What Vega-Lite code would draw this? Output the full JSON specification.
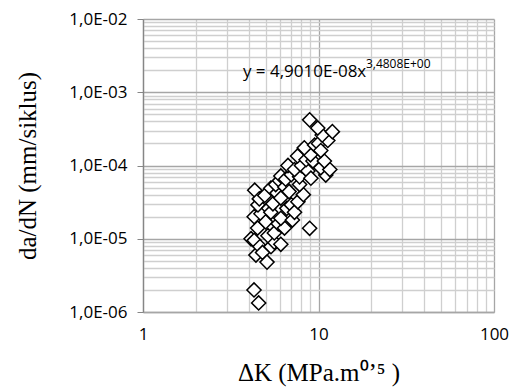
{
  "$schema": "https://vega.github.io/schema/vega-lite/v6.json",
  "width": 351,
  "height": 293,
  "autosize": {"type": "none"},
  "padding": {"left": 143, "top": 19, "right": 21, "bottom": 78},
  "background": "white",
  "config": {"view": {"stroke": null}},
  "layer": [
    {
      "data": {"values": [
        {"dK": 4.13, "dadN": 1.0e-5}, {"dK": 4.3, "dadN": 9.5e-6}, {"dK": 4.4, "dadN": 6.0e-6}, {"dK": 4.64, "dadN": 7.8e-6},
        {"dK": 4.8, "dadN": 6.5e-6}, {"dK": 5.09, "dadN": 4.8e-6}, {"dK": 5.36, "dadN": 7.8e-6}, {"dK": 5.6, "dadN": 9.0e-6},
        {"dK": 6.1, "dadN": 8.4e-6}, {"dK": 4.5, "dadN": 1.4e-5}, {"dK": 5.15, "dadN": 1.1e-5}, {"dK": 5.6, "dadN": 1.2e-5},
        {"dK": 4.3, "dadN": 2.0e-5}, {"dK": 4.7, "dadN": 2.2e-5}, {"dK": 4.52, "dadN": 2.9e-5}, {"dK": 4.33, "dadN": 4.6e-5},
        {"dK": 4.6, "dadN": 3.5e-5}, {"dK": 5.0, "dadN": 1.7e-5}, {"dK": 5.2, "dadN": 2.6e-5}, {"dK": 5.35, "dadN": 2.3e-5},
        {"dK": 4.94, "dadN": 3.9e-5}, {"dK": 5.35, "dadN": 4.9e-5}, {"dK": 5.5, "dadN": 3.0e-5}, {"dK": 5.9, "dadN": 1.6e-5},
        {"dK": 6.4, "dadN": 1.4e-5}, {"dK": 6.1, "dadN": 1.9e-5}, {"dK": 5.8, "dadN": 4.2e-5}, {"dK": 6.1, "dadN": 3.6e-5},
        {"dK": 6.6, "dadN": 2.6e-5}, {"dK": 7.1, "dadN": 1.8e-5}, {"dK": 7.0, "dadN": 2.9e-5}, {"dK": 7.3, "dadN": 2.3e-5},
        {"dK": 5.7, "dadN": 5.5e-5}, {"dK": 6.0, "dadN": 6.2e-5}, {"dK": 6.43, "dadN": 5.1e-5}, {"dK": 6.8, "dadN": 4.4e-5},
        {"dK": 7.63, "dadN": 3.2e-5}, {"dK": 8.2, "dadN": 4.0e-5}, {"dK": 7.8, "dadN": 5.5e-5}, {"dK": 8.9, "dadN": 1.39e-5},
        {"dK": 6.1, "dadN": 7.2e-5}, {"dK": 6.5, "dadN": 6.5e-5}, {"dK": 7.0, "dadN": 7.5e-5}, {"dK": 7.8, "dadN": 7.0e-5},
        {"dK": 6.7, "dadN": 1.0e-4}, {"dK": 7.3, "dadN": 8.8e-5}, {"dK": 8.0, "dadN": 1.0e-4}, {"dK": 8.7, "dadN": 8.4e-5},
        {"dK": 9.05, "dadN": 6.7e-5}, {"dK": 11.0, "dadN": 7.4e-5}, {"dK": 7.6, "dadN": 1.35e-4}, {"dK": 8.5, "dadN": 1.2e-4},
        {"dK": 9.3, "dadN": 1.15e-4}, {"dK": 10.3, "dadN": 9.3e-5}, {"dK": 11.6, "dadN": 8.8e-5}, {"dK": 10.8, "dadN": 1.15e-4},
        {"dK": 9.0, "dadN": 1.4e-4}, {"dK": 8.3, "dadN": 1.74e-4}, {"dK": 9.5, "dadN": 1.9e-4}, {"dK": 10.0, "dadN": 2.0e-4},
        {"dK": 10.3, "dadN": 1.6e-4}, {"dK": 11.3, "dadN": 2.2e-4}, {"dK": 10.5, "dadN": 2.6e-4}, {"dK": 12.0, "dadN": 2.9e-4},
        {"dK": 9.9, "dadN": 3.25e-4}, {"dK": 8.9, "dadN": 4.2e-4}, {"dK": 4.29, "dadN": 2.0e-6}, {"dK": 4.56, "dadN": 1.33e-6}
      ]},
      "mark": {"type": "point", "shape": "diamond", "filled": true, "fill": "white", "stroke": "black", "strokeWidth": 1.5, "size": 200, "opacity": 1},
      "encoding": {
        "x": {
          "field": "dK", "type": "quantitative",
          "scale": {"type": "log", "domain": [1, 100], "nice": false},
          "axis": {
            "values": [1, 2, 3, 4, 5, 6, 7, 8, 9, 10, 20, 30, 40, 50, 60, 70, 80, 90, 100],
            "grid": true,
            "gridColor": {"condition": {"test": "datum.value == 1 || datum.value == 10 || datum.value == 100", "value": "#a6a6a6"}, "value": "#cfcfcf"},
            "gridWidth": 1.3,
            "ticks": false,
            "domainColor": "#a6a6a6",
            "domainWidth": 1.3,
            "labelExpr": "(datum.value == 1 || datum.value == 10 || datum.value == 100) ? '' + datum.value : ''",
            "labelFont": "Open Sans",
            "labelFontSize": 17,
            "labelColor": "black",
            "labelPadding": 14,
            "labelFlush": false,
            "title": "ΔK (MPa.m⁰ʼ⁵ )",
            "titleFont": "Liberation Serif",
            "titleFontSize": 25,
            "titleFontWeight": "normal",
            "titleColor": "black",
            "titlePadding": 18
          }
        },
        "y": {
          "field": "dadN", "type": "quantitative",
          "scale": {"type": "log", "domain": [0.000001, 0.01], "nice": false},
          "axis": {
            "values": [0.000001, 0.000002, 0.000003, 0.000004, 0.000005, 0.000006, 0.000007, 0.000008, 0.000009,
                       0.00001, 0.00002, 0.00003, 0.00004, 0.00005, 0.00006, 0.00007, 0.00008, 0.00009,
                       0.0001, 0.0002, 0.0003, 0.0004, 0.0005, 0.0006, 0.0007, 0.0008, 0.0009,
                       0.001, 0.002, 0.003, 0.004, 0.005, 0.006, 0.007, 0.008, 0.009, 0.01],
            "grid": true,
            "gridColor": {"condition": {"test": "abs(log(datum.value)/LN10 - round(log(datum.value)/LN10)) < 0.001", "value": "#a6a6a6"}, "value": "#cfcfcf"},
            "gridWidth": 1.3,
            "tickColor": {"condition": {"test": "abs(log(datum.value)/LN10 - round(log(datum.value)/LN10)) < 0.001", "value": "#868686"}, "value": "transparent"},
            "tickSize": 6,
            "domainColor": "#868686",
            "domainWidth": 1.3,
            "labelExpr": "abs(log(datum.value)/LN10 - round(log(datum.value)/LN10)) < 0.001 ? '1,0E-0' + (-round(log(datum.value)/LN10)) : ''",
            "labelFont": "Open Sans",
            "labelFontSize": 17,
            "labelColor": "black",
            "labelPadding": 10,
            "labelFlush": false,
            "title": "da/dN (mm/siklus)",
            "titleFont": "Liberation Serif",
            "titleFontSize": 25,
            "titleFontWeight": "normal",
            "titleColor": "black",
            "titlePadding": 28
          }
        }
      }
    },
    {
      "data": {"values": [{"dK": 3.71, "dadN": 0.0019, "t": "y = 4,9010E-08x", "s": "3,4808E+00"}]},
      "layer": [
        {
          "mark": {"type": "text", "align": "left", "baseline": "middle", "font": "Open Sans", "fontSize": 17, "color": "black"},
          "encoding": {
            "x": {"field": "dK", "type": "quantitative"},
            "y": {"field": "dadN", "type": "quantitative"},
            "text": {"field": "t"}
          }
        },
        {
          "mark": {"type": "text", "align": "left", "baseline": "middle", "font": "Open Sans", "fontSize": 12, "color": "black", "dx": 123, "dy": -8},
          "encoding": {
            "x": {"field": "dK", "type": "quantitative"},
            "y": {"field": "dadN", "type": "quantitative"},
            "text": {"field": "s"}
          }
        }
      ]
    }
  ]
}
